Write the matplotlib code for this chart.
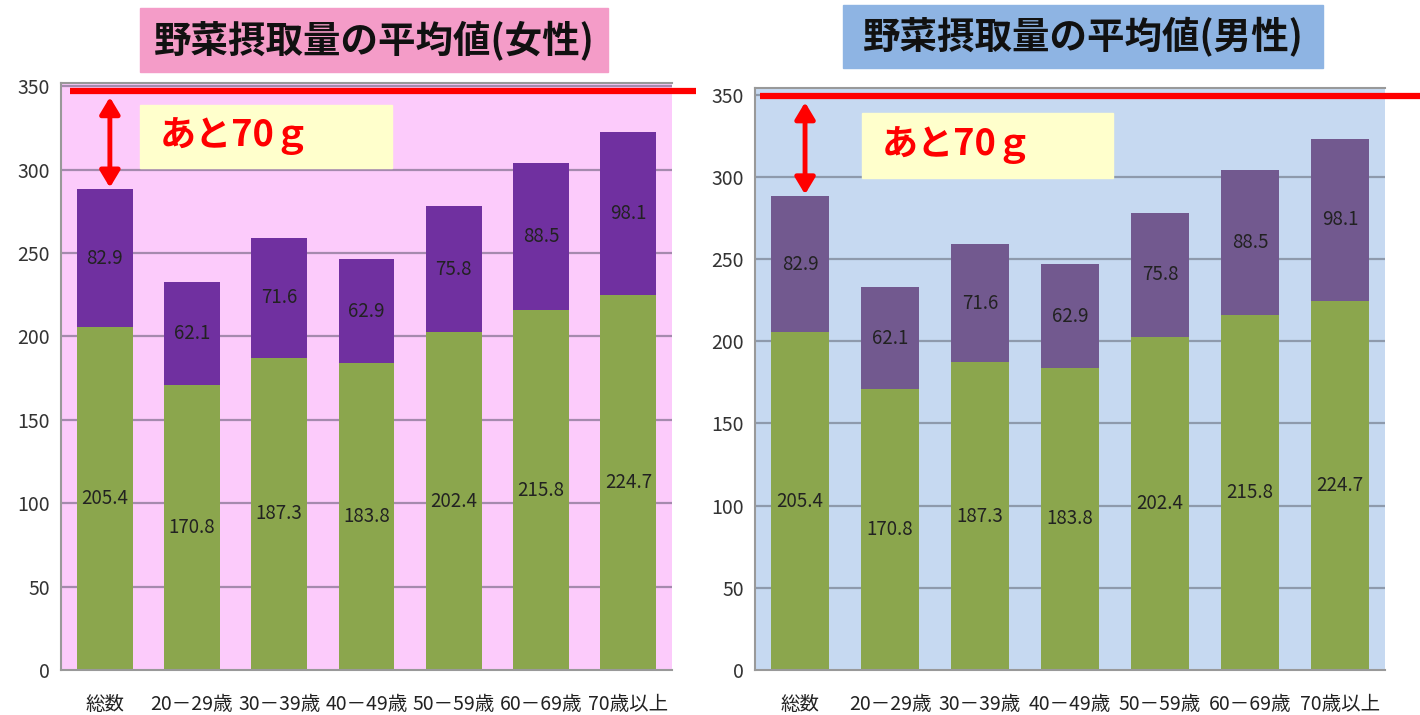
import matplotlib
matplotlib.use("Agg")
import matplotlib.pyplot as plt
from matplotlib.patches import Rectangle

plt.rcParams['font.family'] = ['Noto Sans CJK JP', 'DejaVu Sans']

# data (both panels show the same values in the source picture)
categories = ["総数", "20－29歳", "30－39歳", "40－49歳", "50－59歳", "60－69歳", "70歳以上"]
female_green = [205.4, 170.8, 187.3, 183.8, 202.4, 215.8, 224.7]
female_purple = [82.9, 62.1, 71.6, 62.9, 75.8, 88.5, 98.1]
male_green = [205.4, 170.8, 187.3, 183.8, 202.4, 215.8, 224.7]
male_purple = [82.9, 62.1, 71.6, 62.9, 75.8, 88.5, 98.1]
yticks = [0, 50, 100, 150, 200, 250, 300, 350]
target = 350

W, H = 1420, 715
fig = plt.figure(figsize=(W / 100, H / 100), dpi=100)
fig.patch.set_facecolor("white")


def fx(px):
    return px / W


def fy(py):
    return 1 - py / H


panels = [
    dict(title="野菜摂取量の平均値(女性)", title_box=(140, 8, 608, 72), title_col="#F49CC8",
         ax_box=(61, 83, 672, 670), ymax=352, bg="#FCCBFB", top_col="#7030A0",
         grid_col="#A58AAE", green=female_green, purple=female_purple,
         line_y=347.5, line_x=(0.015, 1.04), arrow_x=0.06,
         ybox=(140, 105, 392, 168)),
    dict(title="野菜摂取量の平均値(男性)", title_box=(843, 5, 1323, 68), title_col="#8EB4E3",
         ax_box=(755, 88, 1385, 670), ymax=354, bg="#C6D9F1", top_col="#72598F",
         grid_col="#8E9AAC", green=male_green, purple=male_purple,
         line_y=349.3, line_x=(0.008, 1.06), arrow_x=0.056,
         ybox=(862, 113, 1113, 178)),
]

for p in panels:
    x0, y0, x1, y1 = p["ax_box"]
    ax = fig.add_axes([fx(x0), fy(y1), fx(x1 - x0), (y1 - y0) / H])
    ax.set_facecolor(p["bg"])
    ax.set_xlim(-0.5, len(categories) - 0.5)
    ax.set_ylim(0, p["ymax"])
    ax.set_yticks(yticks)
    ax.set_yticklabels([str(t) for t in yticks], fontsize=14, color="#333333")
    ax.set_xticks(range(len(categories)))
    ax.set_xticklabels(categories, fontsize=14, color="#222222")
    ax.tick_params(axis="y", length=0, pad=8)
    ax.tick_params(axis="x", length=0, pad=17)
    for t in yticks[1:]:
        ax.axhline(t, color=p["grid_col"], lw=1.6, zorder=1)
    for s in ["left", "bottom", "top"]:
        ax.spines[s].set_color("#999999")
        ax.spines[s].set_linewidth(1.5)
    ax.spines["right"].set_visible(False)

    xs = range(len(categories))
    ax.bar(xs, p["green"], width=0.64, color="#8BA64D", zorder=2)
    ax.bar(xs, p["purple"], bottom=p["green"], width=0.64, color=p["top_col"], zorder=2)
    for i, (g, u) in enumerate(zip(p["green"], p["purple"])):
        ax.text(i, g / 2, f"{g}", ha="center", va="center", fontsize=13.5, color="#222222", zorder=3)
        ax.text(i, g + u / 2, f"{u}", ha="center", va="center", fontsize=13.5, color="#222222", zorder=3)

    # target line and gap arrow
    ax.plot(p["line_x"], [p["line_y"]] * 2, color="#FF0000", lw=4.5,
            transform=ax.get_yaxis_transform(), clip_on=False, zorder=5,
            solid_capstyle="butt")
    total0 = p["green"][0] + p["purple"][0]
    ax.annotate("", xy=(p["arrow_x"], total0 + 1), xytext=(p["arrow_x"], p["line_y"] - 4),
                arrowprops=dict(arrowstyle="<|-|>,head_length=1.0,head_width=0.6",
                                color="#FF0000", lw=3.5, shrinkA=0, shrinkB=0), zorder=5)

    # title box
    bx0, by0, bx1, by1 = p["title_box"]
    fig.patches.append(Rectangle((fx(bx0), fy(by1)), fx(bx1 - bx0), (by1 - by0) / H,
                                 transform=fig.transFigure, color=p["title_col"], zorder=0))
    fig.text(fx((bx0 + bx1) / 2), fy((by0 + by1) / 2), p["title"], ha="center", va="center",
             fontsize=27, fontweight="bold", color="#111111")

    # yellow note box
    qx0, qy0, qx1, qy1 = p["ybox"]
    fig.patches.append(Rectangle((fx(qx0), fy(qy1)), fx(qx1 - qx0), (qy1 - qy0) / H,
                                 transform=fig.transFigure, color="#FFFFCC", zorder=3))
    fig.text(fx(qx0 + 20), fy((qy0 + qy1) / 2), "あと70ｇ", ha="left", va="center",
             fontsize=26, fontweight="bold", color="#FF0000", zorder=4)

fig.savefig("out.png", dpi=100)
